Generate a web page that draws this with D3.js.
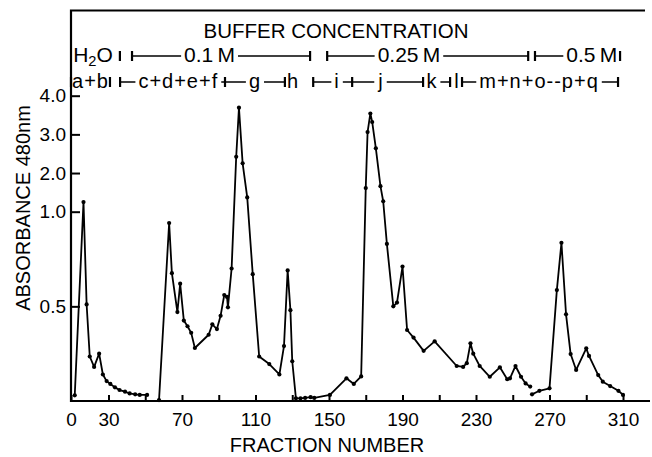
<!DOCTYPE html>
<html>
<head>
<meta charset="utf-8">
<script src="https://cdnjs.cloudflare.com/ajax/libs/d3/7.8.5/d3.min.js"></script>
<style>
    body { margin: 0; background: #fff; }
    svg { display: block; font-family: "Liberation Sans", Arial, sans-serif; }
</style>
</head>
<body>
<div id="chart"></div>
<script>
/*
    absorbance profile of the column fractions
 */

// three runs of the curve (fraction number, absorbance at 480 nm)
var run_1_fraction = [3, 10, 12.5, 15, 18.5, 22.5, 25.5, 28.5, 31, 33.5, 36, 39, 41.5, 44.5, 47, 51];
var run_1_absorbance = [0.03, 1.25, 0.51, 0.235, 0.18, 0.25, 0.14, 0.105, 0.09, 0.072, 0.058, 0.049, 0.04, 0.035, 0.032, 0.032];

var run_2_fraction = [57.5, 63, 64.5, 67.5, 69, 71, 73, 75, 77, 84.5, 86.5, 89, 91, 93, 94.5, 95, 97, 99.5, 101, 103,
    105.5, 108.5, 112, 117.5, 123, 125.5, 127.5, 129, 130, 132, 134.5, 137, 140, 142, 150.5, 159.5, 163.5, 167.5,
    170, 171, 172.5, 173.5, 175.5, 178, 179.5, 181.5, 185, 187, 190, 192.5, 196, 201.5, 207.5, 219.5, 223, 225, 227,
    228.5, 232, 237.5, 243, 247, 248.5, 251.5, 254.5, 257, 259.5];
var run_2_absorbance = [0.005, 0.94, 0.675, 0.47, 0.62, 0.425, 0.395, 0.36, 0.28, 0.35, 0.405, 0.38, 0.45, 0.56, 0.55, 0.495, 0.70, 2.42, 3.69, 2.25,
    1.37, 0.67, 0.235, 0.195, 0.14, 0.29, 0.69, 0.48, 0.21, 0.014, 0.014, 0.016, 0.02, 0.016, 0.032, 0.12, 0.09, 0.13,
    1.61, 3.06, 3.54, 3.32, 2.64, 1.66, 1.27, 0.83, 0.50, 0.52, 0.71, 0.375, 0.335, 0.265, 0.315, 0.185, 0.18, 0.20, 0.305,
    0.25, 0.185, 0.128, 0.178, 0.115, 0.12, 0.185, 0.128, 0.093, 0.076];

var run_3_fraction = [260.5, 264.5, 270, 274, 276.5, 279, 281.5, 284.5, 290, 291.5, 296.5, 299, 303, 307.5, 310];
var run_3_absorbance = [0.035, 0.054, 0.067, 0.586, 0.836, 0.458, 0.248, 0.164, 0.278, 0.238, 0.137, 0.102, 0.079, 0.054, 0.032];

// axes
var x_tick_values = [0, 30, 50, 70, 90, 110, 130, 150, 170, 190, 210, 230, 250, 270, 290, 310];
var x_tick_labels = [0, 30, 70, 110, 150, 190, 230, 270, 310];
var y_tick_values = [0.5, 1.0, 2.0, 3.0, 4.0];

// buffer steps (fraction numbers)
var buffer_labels = ['H2O', '0.1\u2009M', '0.25\u2009M', '0.5\u2009M'];
var buffer_label_at = [17.6, 85, 193.5, 293];
var buffer_marks = [36.2, 42.8, 139.7, 149, 258.4, 262.1, 308.4];
var buffer_runs = [[0, 2.5], [42.8, 139.7], [149, 258.4], [262.1, 308.4]];

// pooled fractions
var pool_labels = ['a+b', 'c+d+e+f', 'g', 'h', 'i', 'j', 'k', 'l', 'm+n+o--p+q'];
var pool_label_at = [15.6, 68, 109.7, 130.5, 154.4, 178.3, 206, 219.7, 264.3];
var pool_marks = [0, 30.8, 36.3, 93.4, 126, 141.4, 162.6, 201.2, 215.9, 222.4, 307.3];
var pool_runs = [[0, 30.8], [36.3, 126], [141.4, 215.9], [222.4, 307.3]];

var svg_size = {
    'width': 652,
    'height': 457
};

var svg = d3.select("#chart")
    .append("svg")
    .attr('width', svg_size.width)
    .attr('height', svg_size.height);

var x_scale = d3.scaleLinear()
    .domain([0, 30, 310])
    .range([71, 108.5, 623]);

var y_scale = d3.scaleLinear()
    .domain([0, 1, 4])
    .range([401, 211.7, 95.7]);

// x axis
var x_axis = d3.axisBottom(x_scale)
    .tickValues(x_tick_values)
    .tickSizeInner(-6)
    .tickSizeOuter(0)
    .tickPadding(12)
    .tickFormat(function(d){
        return x_tick_labels.indexOf(d) >= 0 ? d : '';
    });

var x_axis_group = svg.append('g')
    .attr('transform', 'translate(0,401)')
    .call(x_axis);

// y axis
var y_axis = d3.axisLeft(y_scale)
    .tickValues(y_tick_values)
    .tickSizeInner(-9)
    .tickSizeOuter(0)
    .tickPadding(5)
    .tickFormat(d3.format('.1f'));

var y_axis_group = svg.append('g')
    .attr('transform', 'translate(71,0)')
    .call(y_axis);

[x_axis_group, y_axis_group].forEach(function(g){
    g.select('.domain').remove();
    g.selectAll('.tick line')
        .style('stroke', '#000')
        .style('stroke-width', 2);
    g.selectAll('.tick text')
        .style('font-family', '"Liberation Sans", Arial, sans-serif')
        .style('font-size', '19px')
        .style('fill', '#000');
});

// axis titles
svg.append('text')
    .attr('transform', 'translate(30,208) rotate(-90)')
    .attr('text-anchor', 'middle')
    .style('font-size', '20px')
    .text('ABSORBANCE 480nm');

svg.append('text')
    .attr('x', 327)
    .attr('y', 452)
    .attr('text-anchor', 'middle')
    .style('font-size', '20px')
    .text('FRACTION NUMBER');

svg.append('text')
    .attr('x', 336)
    .attr('y', 38)
    .attr('text-anchor', 'middle')
    .style('font-size', '20.5px')
    .text('BUFFER CONCENTRATION');

// bracket rows
function draw_row(row_y, labels, label_at, marks, runs, font_size, spacing){
    var row = svg.append('g').classed('bracket-row', true);
    var line_y = row_y - 6;

    var run_group = row.append('g');
    var bg_group = row.append('g');
    var label_group = row.append('g');

    run_group.selectAll('.run')
        .data(runs)
        .enter()
        .append('line')
        .attr('x1', function(d){ return x_scale(d[0]); })
        .attr('x2', function(d){ return x_scale(d[1]); })
        .attr('y1', line_y)
        .attr('y2', line_y)
        .style('stroke', '#000')
        .style('stroke-width', 1.5);

    var label_enter = label_group.selectAll('.label')
        .data(labels)
        .enter()
        .append('text')
        .attr('x', function(d, i){ return x_scale(label_at[i]); })
        .attr('y', row_y)
        .attr('text-anchor', 'middle')
        .style('font-size', font_size + 'px')
        .style('letter-spacing', spacing + 'px')
        .style('fill', '#000');

    // knock the bracket line out behind each label
    label_enter.each(function(d){
        var t = d3.select(this);
        if (d === 'H2O') {
            t.append('tspan').text('H');
            t.append('tspan').attr('dy', 4).style('font-size', (font_size * 0.7) + 'px').text('2');
            t.append('tspan').attr('dy', -4).text('O');
        } else {
            t.text(d);
        }
        var b = this.getBBox();
        bg_group.append('rect')
            .attr('x', b.x - 3)
            .attr('y', line_y - 2)
            .attr('width', b.width + 6)
            .attr('height', 4)
            .style('fill', '#fff');
    });

    row.selectAll('.mark')
        .data(marks)
        .enter()
        .append('line')
        .attr('x1', function(d){ return x_scale(d); })
        .attr('x2', function(d){ return x_scale(d); })
        .attr('y1', line_y - 5)
        .attr('y2', line_y + 5)
        .style('stroke', '#000')
        .style('stroke-width', 2.2);
}

draw_row(62, buffer_labels, buffer_label_at, buffer_marks, buffer_runs, 21, 0);
draw_row(88, pool_labels, pool_label_at, pool_marks, pool_runs, 20, 1);

// curve
var runs = [
    d3.zip(run_1_fraction, run_1_absorbance),
    d3.zip(run_2_fraction, run_2_absorbance),
    d3.zip(run_3_fraction, run_3_absorbance)
];

var line = d3.line()
    .x(function(d){ return x_scale(d[0]); })
    .y(function(d){ return y_scale(d[1]); });

var curve_group = svg.append('g');

curve_group.selectAll('.run-line')
    .data(runs)
    .enter()
    .append('path')
    .attr('d', line)
    .style('fill', 'none')
    .style('stroke', '#000')
    .style('stroke-width', 1.8)
    .style('stroke-linejoin', 'round');

curve_group.selectAll('.point')
    .data(d3.merge(runs))
    .enter()
    .append('circle')
    .attr('cx', function(d){ return x_scale(d[0]); })
    .attr('cy', function(d){ return y_scale(d[1]); })
    .attr('r', 2.1)
    .style('fill', '#000');

// frame
svg.append('path')
    .attr('d', 'M645,10.5H71V401H650')
    .style('fill', 'none')
    .style('stroke', '#000')
    .style('stroke-width', 2.2);
</script>
</body>
</html>
